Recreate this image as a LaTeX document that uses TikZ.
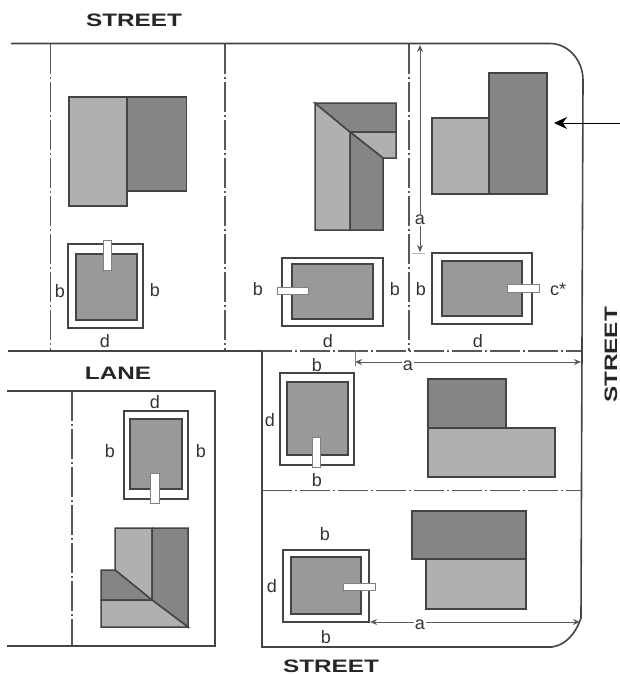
\documentclass[tikz,border=0pt]{standalone}
\usepackage{fontspec}
\setmainfont{Liberation Sans}
\newfontfamily\streetfont[FakeStretch=1.35]{Liberation Sans}
\usetikzlibrary{arrows.meta}
\definecolor{roofdark}{HTML}{858585}
\definecolor{rooflight}{HTML}{B0B0B0}
\definecolor{plotgray}{HTML}{999999}
\definecolor{linegray}{HTML}{444444}
\tikzset{
  streetline/.style={draw=linegray,line width=1.6pt},
  lotline/.style={draw=linegray!90,line width=1.8pt,dash pattern=on 30pt off 3pt on 2pt off 3pt},
  darkroof/.style={fill=roofdark,draw=linegray,line width=1.5pt},
  lightroof/.style={fill=rooflight,draw=linegray,line width=1.5pt},
  outerplan/.style={fill=white,draw=linegray,line width=1.7pt},
  innerplan/.style={fill=plotgray,draw=linegray,line width=1.7pt},
  porch/.style={fill=white,draw=gray,line width=0.9pt},
  dimline/.style={draw=gray!70!black,line width=1pt,-{Stealth[length=7pt,width=6pt]}},
  dimlabel/.style={inner sep=1pt,text=black!80,font=\fontsize{18}{18}\selectfont},
  streetlabel/.style={inner sep=0pt,text=black!85,font=\streetfont\bfseries\fontsize{18}{18}\selectfont}
}
\begin{document}
\begin{tikzpicture}[x=1pt,y=-1pt]
  \useasboundingbox (0,0) rectangle (620,675);
  % lot lines:
  \draw[lotline] (50.5,44) -- (50.5,351);
  \draw[lotline] (225,44) -- (225,351);
  \draw[lotline] (409,44) -- (409,351);
  \draw[lotline] (72,391) -- (72,646);
  \draw[lotline] (262,351) -- (581,351);
  \draw[lotline] (262,490.5) -- (581,490.5);
  % street edges:
  \draw[streetline] (11,43.5) -- (550,43.5) .. controls (568,43.5) and (583,60) .. (583,80)
    -- (581,618) .. controls (575,635) and (565,645) .. (552,647) -- (262,647) -- (262,351);
  \draw[streetline] (8,351) -- (262,351);
  \draw[streetline] (7,391) -- (215,391) -- (215,646) -- (7,646);
  % top left lot:
  \fill[lightroof] (69,97) rectangle (127,206);
  \fill[darkroof] (127,97) rectangle (186.5,191);
  \draw[outerplan] (68,244) rectangle (143,328);
  \draw[innerplan] (76,254) rectangle (137,320);
  \draw[porch] (103,240) rectangle (111,270);
  \node[dimlabel] (b1) at (60,291) {b};
  \node[dimlabel] (b2) at (155,290) {b};
  \node[dimlabel] (d1) at (105,341) {d};
  % top middle lot:
  \filldraw[lightroof] (315,103) -- (350,132) -- (350,230) -- (315,230) --cycle;
  \filldraw[darkroof] (315,103) -- (396,103) -- (396,132) -- (350,132) --cycle;
  \filldraw[lightroof] (350,132) -- (396,132) -- (396,158) -- (383,158) --cycle;
  \filldraw[darkroof] (350,132) -- (383,158) -- (383,230) -- (350,230) --cycle;
  \draw[outerplan] (282,258) rectangle (383,326);
  \draw[innerplan] (292,264) rectangle (373,319);
  \draw[porch] (277,287) rectangle (308,294);
  \node[dimlabel] (b3) at (258,289) {b};
  \node[dimlabel] (b4) at (395,289) {b};
  \node[dimlabel] (d2) at (328,341) {d};
  % top right lot:
  \fill[lightroof] (432,118) rectangle (489,194);
  \fill[darkroof] (489,73) rectangle (547,194);
  \draw[outerplan] (432,253) rectangle (532,324);
  \draw[innerplan] (442,261) rectangle (522,316);
  \draw[porch] (507,284) rectangle (539,292);
  \node[dimlabel] (b5) at (421,289) {b};
  \node[dimlabel] (cstar) at (558,289) {c*};
  \node[dimlabel] (d3) at (478,341) {d};
  % setback on the top right lot:
  \node[dimlabel] (atop) at (420,220) {a};
  \coordinate (atopup) at (420,45);
  \coordinate (atopdown) at (420,252);
  \draw[dimline] (atop) -- (atopup);
  \draw[dimline] (atop) -- (atopdown);
  \draw[draw=gray!60,line width=0.9pt] (412,253) -- (425,253);
  % leader:
  \coordinate (leaderstart) at (620,123);
  \coordinate (leaderend) at (554,123);
  \draw[draw=black,line width=1pt,-{Stealth[length=13pt,width=12pt]}] (leaderstart) -- (leaderend);
  % lane lot:
  \draw[outerplan] (124,411) rectangle (188,499);
  \draw[innerplan] (130,419) rectangle (182,489);
  \draw[porch] (150,473) rectangle (159,503);
  \node[dimlabel] (d4) at (155,402) {d};
  \node[dimlabel] (b6) at (110,451) {b};
  \node[dimlabel] (b7) at (201,451) {b};
  \filldraw[lightroof] (115,528) -- (152,528) -- (152,600) -- (115,570) --cycle;
  \filldraw[darkroof] (152,528) -- (188,528) -- (188,627) -- (152,600) --cycle;
  \filldraw[darkroof] (101,570) -- (115,570) -- (152,600) -- (101,600) --cycle;
  \filldraw[lightroof] (101,600) -- (152,600) -- (188,627) -- (101,627) --cycle;
  % right middle lot:
  \draw[outerplan] (280,373) rectangle (354,465);
  \draw[innerplan] (287,382) rectangle (348,455);
  \draw[porch] (312,437) rectangle (320,467);
  \node[dimlabel] (b8) at (317,365) {b};
  \node[dimlabel] (b9) at (317,480) {b};
  \node[dimlabel] (d5) at (270,420) {d};
  \fill[darkroof] (428,379) rectangle (506,428);
  \fill[lightroof] (428,428) rectangle (555,477);
  \node[dimlabel] (amid) at (408,366) {a};
  \coordinate (amidleft) at (355,362);
  \coordinate (amidright) at (581,362);
  \draw[dimline] (amid.west |- amidleft) -- (amidleft);
  \draw[dimline] (amid.east |- amidright) -- (amidright);
  \draw[draw=gray,line width=0.9pt] (355,351) -- (355,366);
  % right bottom lot:
  \draw[outerplan] (283,550) rectangle (369,622);
  \draw[innerplan] (291,557) rectangle (361,614);
  \draw[porch] (343,583) rectangle (375,590);
  \node[dimlabel] (b10) at (325,534) {b};
  \node[dimlabel] (d6) at (272,586) {d};
  \node[dimlabel] (b11) at (326,637) {b};
  \fill[darkroof] (412,511) rectangle (526,559);
  \fill[lightroof] (426,559) rectangle (526,609);
  \node[dimlabel] (alow) at (420,625) {a};
  \coordinate (alowleft) at (370,622);
  \coordinate (alowright) at (580,622);
  \draw[dimline] (alow.west |- alowleft) -- (alowleft);
  \draw[dimline] (alow.east |- alowright) -- (alowright);
  % street names:
  \node[streetlabel] (streettop) at (134,20) {STREET};
  \node[streetlabel] (streetlow) at (331,666) {STREET};
  \node[streetlabel,rotate=90] (streetside) at (611,355) {STREET};
  \node[streetlabel] (lane) at (118,373) {LANE};
\end{tikzpicture}
\end{document}
